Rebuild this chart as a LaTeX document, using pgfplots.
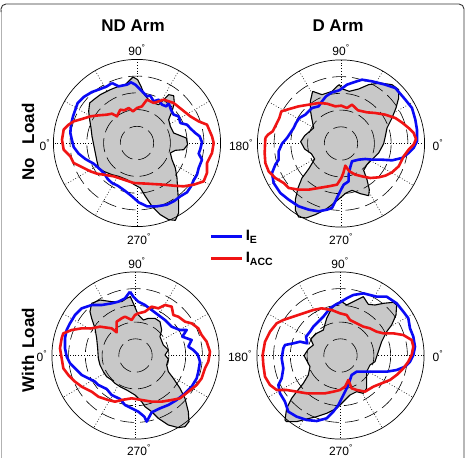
\documentclass[border=0pt]{standalone}
\usepackage{pgfplots}
\pgfplotsset{compat=1.18}
\usepackage{fontspec}
\setmainfont{Liberation Sans}
\definecolor{mblue}{RGB}{10,10,245}
\definecolor{mred}{RGB}{240,20,20}
\definecolor{mgrey}{RGB}{200,200,200}
\tikzset{
  spoke/.style={black, line width=0.6bp, dash pattern=on 0.8bp off 2bp},
  ring/.style={black, line width=0.6bp, dash pattern=on 14bp off 6bp},
  outerring/.style={black, line width=0.7bp},
  lab/.style={font=\fontsize{12bp}{14bp}\selectfont, inner sep=0pt},
  ttl/.style={font=\fontsize{17bp}{20bp}\selectfont\bfseries, inner sep=0pt},
}
\newcommand{\spokes}[2]{%
  \draw[spoke] (axis cs:#1,#2) ++(0:83.6bp) -- ++(180:167.2bp);
  \draw[spoke] (axis cs:#1,#2) ++(30:83.6bp) -- ++(210:167.2bp);
  \draw[spoke] (axis cs:#1,#2) ++(60:83.6bp) -- ++(240:167.2bp);
  \draw[spoke] (axis cs:#1,#2) ++(90:83.6bp) -- ++(270:167.2bp);
  \draw[spoke] (axis cs:#1,#2) ++(120:83.6bp) -- ++(300:167.2bp);
  \draw[spoke] (axis cs:#1,#2) ++(150:83.6bp) -- ++(330:167.2bp);
}
\newcommand{\rings}[2]{%
  \draw[ring] (axis cs:#1,#2) circle[radius=16.7bp];
  \draw[ring] (axis cs:#1,#2) circle[radius=33.4bp];
  \draw[ring] (axis cs:#1,#2) circle[radius=50.2bp];
  \draw[ring] (axis cs:#1,#2) circle[radius=66.9bp];
  \draw[outerring] (axis cs:#1,#2) circle[radius=83.6bp];
}
\pgfplotsset{
  pp/.style={anchor=north west, x=0.33333bp, y=0.33333bp, y dir=reverse,
    xmin=0, xmax=540, ymin=0, ymax=540, hide axis, clip=false, enlargelimits=false},
  greyarea/.style={fill=mgrey, draw=black, line width=1.1bp, line join=round, forget plot},
  bl/.style={mblue, line width=2.6bp, line join=round},
  rd/.style={mred, line width=2.6bp, line join=round},
}
\begin{document}
\begin{tikzpicture}
\path[use as bounding box] (0,0) rectangle (465bp,-458bp);
\draw[gray!60, line width=0.8bp] (1bp,-458bp) -- (1bp,-10bp);
\draw[black!80, line width=0.9bp, rounded corners=5bp] (1bp,-12bp) -- (1bp,-4bp) -- (464bp,-4bp) -- (464bp,-458bp);

% ---------------- TL : ND Arm, No Load
\begin{axis}[pp, at={(47bp,-53bp)},
  legend style={at={(axis cs:489,526)}, anchor=north west, draw=none, fill=none,
    inner sep=0pt, row sep=6bp, font=\fontsize{15bp}{16bp}\selectfont\bfseries},
  legend cell align=left,
  legend image code/.code={\draw[#1] (0bp,0bp) -- (31bp,0bp);}]
\spokes{270}{270}
\addplot[greyarea] coordinates {(258,72) (272,80) (282,100) (292,125) (305,140) (320,150) (335,155) (350,140) (365,125) (380,128) (382,150) (375,175) (365,200) (370,220) (380,240) (400,248) (418,255) (422,275) (410,290) (385,292) (370,300) (375,320) (385,345) (390,375) (392,410) (395,450) (395,480) (385,502) (365,500) (340,485) (315,460) (295,430) (280,405) (262,395) (240,380) (215,370) (195,365) (170,355) (155,345) (150,325) (145,300) (140,275) (135,250) (132,225) (128,200) (125,175) (128,150) (140,140) (160,125) (190,110) (215,100) (235,95) (245,85) (258,72)};
\rings{270}{270}
\addplot[bl] coordinates {(195,90) (215,100) (240,95) (252,88) (265,95) (275,105) (290,120) (300,130) (310,128) (320,145) (335,140) (345,155) (358,160) (365,150) (372,170) (380,185) (395,190) (400,210) (420,215) (432,228) (445,240) (458,250) (465,268) (460,288) (455,302) (465,320) (455,345) (450,365) (440,382) (432,400) (420,418) (400,430) (380,445) (360,455) (330,460) (300,460) (275,448) (255,430) (232,412) (212,398) (195,390) (182,378) (172,362) (160,350) (140,332) (115,318) (95,302) (80,282) (75,262) (70,240) (72,215) (78,190) (85,170) (92,150) (110,132) (135,117) (160,108) (180,100) (195,90)};
\addlegendentry{I\textsubscript{E}}
\addplot[rd] coordinates {(500,270) (495,250) (480,215) (455,205) (430,190) (405,170) (380,150) (350,140) (320,150) (300,140) (285,160) (270,165) (258,175) (245,165) (232,172) (220,170) (210,190) (195,182) (180,185) (155,187) (130,190) (105,198) (80,205) (65,215) (50,230) (45,260) (50,290) (70,310) (80,330) (110,345) (130,355) (150,362) (170,365) (200,370) (230,380) (260,390) (300,392) (350,395) (380,398) (410,400) (440,395) (470,385) (480,360) (480,330) (495,300) (500,270)};
\addlegendentry{I\textsubscript{ACC}}
\end{axis}

% ---------------- TR : D Arm, No Load
\begin{axis}[pp, at={(252bp,-53bp)}]
\spokes{267}{271.5}
\addplot[greyarea] coordinates {(182,115) (210,125) (240,115) (255,100) (262,95) (272,108) (292,115) (320,108) (350,95) (385,90) (420,95) (440,110) (440,135) (432,165) (420,195) (405,225) (400,250) (395,272) (380,300) (365,315) (345,335) (335,352) (345,380) (352,410) (350,428) (325,422) (300,412) (282,420) (262,437) (240,455) (220,470) (190,485) (162,495) (140,492) (130,472) (130,440) (138,405) (150,375) (170,348) (188,318) (178,302) (158,288) (146,266) (158,248) (172,236) (185,225) (180,200) (175,170) (175,145) (182,115)};
\rings{267}{271.5}
\addplot[bl] coordinates {(262,112) (285,95) (305,88) (330,80) (360,85) (400,95) (430,105) (460,140) (480,165) (490,200) (495,230) (495,265) (485,285) (470,300) (450,315) (420,322) (390,320) (360,320) (340,318) (320,320) (300,325) (295,342) (290,365) (290,385) (275,395) (262,420) (250,445) (240,465) (225,470) (200,475) (170,470) (140,460) (110,440) (85,420) (65,390) (60,360) (70,335) (80,320) (80,295) (90,272) (105,255) (115,240) (125,225) (132,210) (142,195) (160,185) (180,165) (200,160) (210,145) (222,130) (240,118) (262,112)};
\addplot[rd] coordinates {(40,255) (48,245) (62,235) (72,215) (82,195) (88,175) (105,170) (140,160) (170,155) (200,150) (225,152) (250,160) (268,158) (285,165) (300,155) (318,172) (345,178) (370,180) (400,185) (430,195) (452,210) (470,225) (485,240) (492,258) (485,275) (470,290) (455,310) (440,340) (420,358) (400,368) (380,373) (355,375) (330,370) (310,365) (292,355) (280,338) (274,360) (268,375) (255,395) (230,400) (200,405) (170,410) (140,410) (110,405) (95,390) (70,375) (50,355) (40,330) (38,300) (40,255)};
\end{axis}

% ---------------- BL : ND Arm, With Load
\begin{axis}[pp, at={(45bp,-265bp)}]
\spokes{271.5}{271.5}
\addplot[greyarea] coordinates {(140,115) (165,105) (200,110) (230,110) (245,100) (256,95) (265,115) (280,150) (295,165) (310,160) (330,160) (345,170) (350,195) (345,215) (355,240) (370,255) (360,270) (370,282) (365,300) (370,320) (385,340) (405,370) (420,400) (430,440) (432,470) (420,485) (400,488) (370,480) (340,460) (320,440) (300,425) (290,410) (270,390) (245,375) (225,365) (210,355) (200,345) (185,335) (175,320) (165,300) (160,280) (158,250) (155,220) (150,190) (140,160) (135,140) (140,115)};
\rings{271.5}{271.5}
\addplot[bl] coordinates {(255,80) (265,95) (280,110) (300,120) (320,135) (340,150) (360,165) (380,185) (405,195) (425,195) (412,215) (440,225) (430,245) (445,255) (458,268) (465,290) (460,320) (455,340) (440,365) (420,385) (395,405) (370,420) (345,430) (320,442) (305,470) (298,455) (280,440) (260,430) (240,420) (225,402) (200,390) (185,372) (160,360) (150,350) (130,340) (110,330) (90,310) (75,295) (65,275) (60,250) (60,220) (65,195) (75,175) (90,150) (110,130) (140,120) (170,120) (200,115) (220,110) (240,100) (255,80)};
\addplot[rd] coordinates {(50,220) (55,205) (80,195) (110,190) (140,190) (165,185) (200,190) (215,202) (215,170) (230,160) (240,155) (260,165) (270,150) (280,145) (300,140) (320,125) (340,130) (360,120) (380,125) (385,150) (400,155) (420,170) (440,175) (460,190) (470,210) (485,230) (495,260) (490,290) (480,310) (470,340) (455,360) (430,380) (405,400) (380,405) (350,410) (320,410) (290,405) (260,400) (230,405) (210,410) (190,405) (160,395) (140,380) (110,365) (90,350) (70,330) (55,310) (50,280) (45,250) (50,220)};
\end{axis}

% ---------------- BR : D Arm, With Load
\begin{axis}[pp, at={(250bp,-265bp)}]
\spokes{271.5}{271.5}
\addplot[greyarea] coordinates {(105,465) (110,430) (125,400) (140,380) (160,355) (175,330) (180,305) (172,290) (162,272) (175,252) (190,240) (182,222) (200,205) (220,195) (230,160) (245,130) (260,115) (275,110) (290,120) (310,110) (330,100) (340,95) (355,118) (375,120) (400,115) (430,112) (440,120) (438,150) (425,180) (410,200) (395,230) (385,260) (375,290) (360,300) (350,320) (350,345) (350,370) (340,385) (320,380) (300,390) (280,410) (260,430) (230,445) (200,455) (170,462) (140,470) (110,470) (105,465)};
\rings{271.5}{271.5}
\addplot[bl] coordinates {(265,115) (290,100) (310,90) (340,85) (380,95) (410,95) (440,115) (460,140) (475,160) (480,190) (490,215) (495,245) (490,270) (480,290) (465,305) (440,315) (410,320) (380,320) (350,320) (320,320) (305,330) (300,345) (295,360) (285,380) (275,400) (265,420) (250,440) (230,460) (200,468) (170,465) (140,455) (115,440) (105,410) (90,385) (85,360) (95,340) (100,310) (95,280) (100,250) (105,240) (130,235) (150,230) (172,235) (168,215) (180,200) (190,185) (205,170) (220,155) (240,130) (255,120) (265,115)};
\addplot[rd] coordinates {(45,230) (60,200) (80,175) (100,165) (130,155) (160,145) (190,135) (215,130) (245,135) (270,145) (290,150) (300,165) (320,175) (340,185) (360,190) (380,200) (400,205) (430,205) (460,210) (485,225) (490,245) (485,270) (475,290) (460,310) (440,330) (420,345) (395,355) (370,365) (345,380) (320,375) (305,370) (295,345) (285,365) (270,375) (250,380) (225,385) (200,385) (170,385) (140,380) (110,375) (80,375) (60,360) (45,335) (40,300) (38,270) (45,230)};
\end{axis}

% ---------------- texts
\node[ttl] at (133bp,-26bp) {ND Arm};
\node[ttl] at (338bp,-26bp) {D Arm};
\node[ttl, rotate=90] at (28bp,-142bp) {No\hspace{0.8em}Load};
\node[ttl, rotate=90] at (28bp,-350bp) {With\hspace{0.4em}Load};

\node[lab] at (137bp,-50bp) {90\textsuperscript{°}};
\node[lab] at (341bp,-50bp) {90\textsuperscript{°}};
\node[lab] at (45bp,-145bp) {0\textsuperscript{°}};
\node[lab] at (241bp,-145bp) {180\textsuperscript{°}};
\node[lab] at (438bp,-145bp) {0\textsuperscript{°}};
\node[lab] at (139bp,-239bp) {270\textsuperscript{°}};
\node[lab] at (341bp,-239bp) {270\textsuperscript{°}};

\node[lab] at (137bp,-263bp) {90\textsuperscript{°}};
\node[lab] at (340bp,-263bp) {90\textsuperscript{°}};
\node[lab] at (42bp,-356bp) {0\textsuperscript{°}};
\node[lab] at (240bp,-356bp) {180\textsuperscript{°}};
\node[lab] at (438bp,-356bp) {0\textsuperscript{°}};
\node[lab] at (139bp,-450bp) {270\textsuperscript{°}};
\node[lab] at (341bp,-450bp) {270\textsuperscript{°}};
\end{tikzpicture}
\end{document}
